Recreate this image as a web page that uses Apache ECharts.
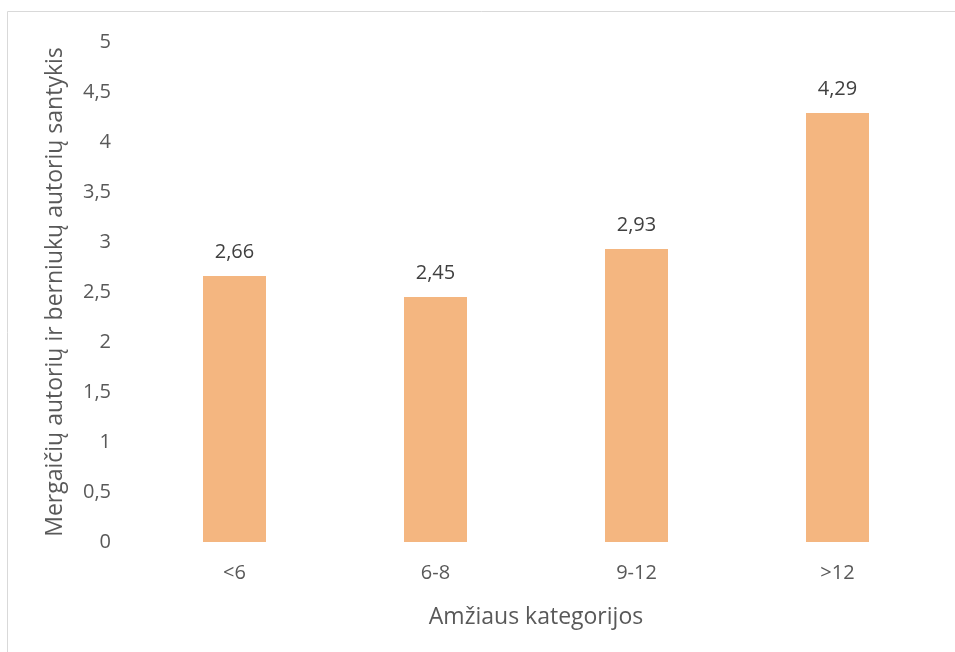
<!DOCTYPE html>
<html><head><meta charset="utf-8">
<script src="https://cdn.jsdelivr.net/npm/echarts@6/dist/echarts.min.js"></script>
<style>html,body{margin:0;padding:0;background:#fff}#c{width:955px;height:652px}</style>
</head><body><div id="c"></div>
<script>
const categories = ['<6', '6-8', '9-12', '>12'];
const ratios = [2.66, 2.45, 2.93, 4.29];
const yTicks = [0, 0.5, 1, 1.5, 2, 2.5, 3, 3.5, 4, 4.5, 5];
const xTitle = 'Amžiaus kategorijos';
const yTitle = 'Mergaičių autorių ir berniukų autorių santykis';

const fmt = v => String(v).replace('.', ',');
const chart = echarts.init(document.getElementById('c'), null, {renderer: 'canvas'});
chart.setOption({
  animation: false,
  textStyle: {fontFamily: 'Open Sans'},
  graphic: [{
    type: 'rect', shape: {x: 7.5, y: 11.5, width: 960, height: 660},
    style: {fill: 'none', stroke: '#d9d9d9', lineWidth: 1}, silent: true
  }],
  grid: {left: 134, right: 17, top: 42, bottom: 110},
  xAxis: {
    type: 'category', data: categories,
    axisLine: {show: false}, axisTick: {show: false},
    axisLabel: {color: '#595959', fontSize: 20, margin: 21},
    name: xTitle, nameLocation: 'middle', nameGap: 64,
    nameTextStyle: {color: '#595959', fontSize: 23}
  },
  yAxis: {
    type: 'value', min: yTicks[0], max: yTicks[yTicks.length - 1], interval: 0.5,
    splitLine: {show: false}, axisLine: {show: false}, axisTick: {show: false},
    axisLabel: {color: '#595959', fontSize: 20, margin: 23, formatter: fmt},
    name: yTitle, nameLocation: 'middle', nameGap: 67,
    nameTextStyle: {color: '#595959', fontSize: 23}
  },
  series: [{
    type: 'bar', data: ratios, barWidth: 63,
    itemStyle: {color: '#F4B680'},
    label: {show: true, position: 'top', distance: 14, color: '#404040', fontSize: 20, formatter: p => fmt(p.value)}
  }]
});
</script></body></html>
